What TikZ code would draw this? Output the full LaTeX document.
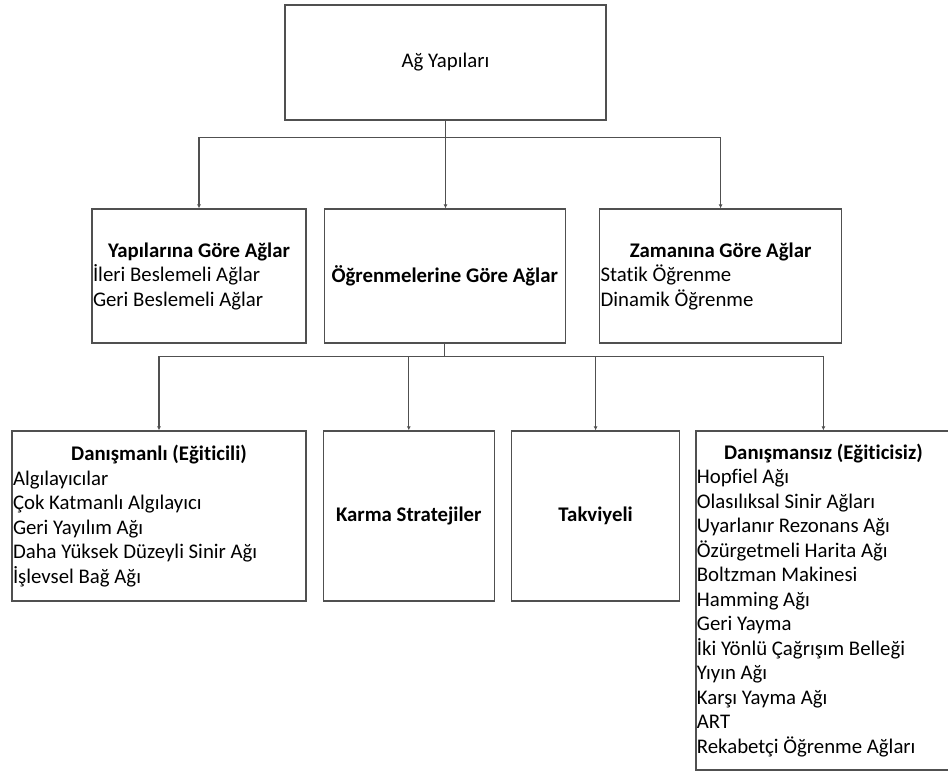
\documentclass[tikz,border=0pt]{standalone}
\usepackage{fontspec}
\setmainfont{Carlito}[Ligatures=NoCommon]
\usepackage{tikz}
\usetikzlibrary{arrows.meta,positioning,calc}
\definecolor{cizgi}{HTML}{505050}
\newcommand{\baslik}[1]{\makebox[\linewidth][c]{\textbf{#1}}}
\tikzset{
    kutu/.style={draw=cizgi,line width=1.3pt,inner xsep=1pt,inner ysep=0pt,align=center,
        font=\fontsize{20.8}{24.5}\selectfont},
    kalin/.style={kutu,font=\fontsize{20.8}{24.5}\selectfont\bfseries},
    liste/.style={kutu,align=flush left},
    ok/.style={-{Latex[length=4pt,width=4pt]},draw=cizgi,line width=1.1pt}
}

\begin{document}
\begin{tikzpicture}[x=1pt,y=-1pt]
    \useasboundingbox (0,0) rectangle (948,772);
    % ust seviye
    \node[kutu,minimum width=321pt,minimum height=115pt] (kok) at (445.5,62.5) {Ağ Yapıları};

    % ikinci seviye
    \node[liste,text width=212pt,minimum height=134pt] (yap) at (199,276)
        {\baslik{Yapılarına Göre Ağlar}\\İleri Beslemeli Ağlar\\Geri Beslemeli Ağlar};
    \node[kalin,minimum width=241pt,minimum height=134pt,right=17pt of yap] (ogr) {Öğrenmelerine Göre Ağlar};
    \node[liste,text width=240pt,minimum height=134pt,right=33pt of ogr] (zam)
        {\baslik{Zamanına Göre Ağlar}\\Statik Öğrenme\\Dinamik Öğrenme};

    % ucuncu seviye
    \node[liste,text width=292pt,minimum height=170pt] (dan) at (159,516)
        {\baslik{Danışmanlı (Eğiticili)}\\Algılayıcılar\\Çok Katmanlı Algılayıcı\\Geri Yayılım Ağı\\
         Daha Yüksek Düzeyli Sinir Ağı\\İşlevsel Bağ Ağı};
    \node[kalin,minimum width=171pt,minimum height=170pt,right=16pt of dan] (karma) {Karma Stratejiler};
    \node[kalin,minimum width=168pt,minimum height=170pt,right=16pt of karma] (takv) {Takviyeli};
    \node[liste,text width=253pt,minimum height=339pt,right=15pt of takv.north east,anchor=north west] (dsz)
        {\baslik{Danışmansız (Eğiticisiz)}\\Hopfiel Ağı\\Olasılıksal Sinir Ağları\\Uyarlanır Rezonans Ağı\\
         Özürgetmeli Harita Ağı\\Boltzman Makinesi\\Hamming Ağı\\Geri Yayma\\İki Yönlü Çağrışım Belleği\\
         Yıyın Ağı\\Karşı Yayma Ağı\\ART\\Rekabetçi Öğrenme Ağları};

    % baglantilar
    \draw[ok] (kok.south) -- ++(0,17) -| (yap.north);
    \draw[ok] (kok.south) -- (kok.south |- ogr.north);
    \draw[ok] (kok.south) -- ++(0,17) -| (zam.north);

    \draw[ok] (ogr.south) -- ++(0,13) -| (dan.north);
    \draw[ok] (ogr.south) -- ++(0,13) -| (karma.north);
    \draw[ok] (ogr.south) -- ++(0,13) -| (takv.north);
    \draw[ok] (ogr.south) -- ++(0,13) -| (dsz.north);
\end{tikzpicture}
\end{document}
